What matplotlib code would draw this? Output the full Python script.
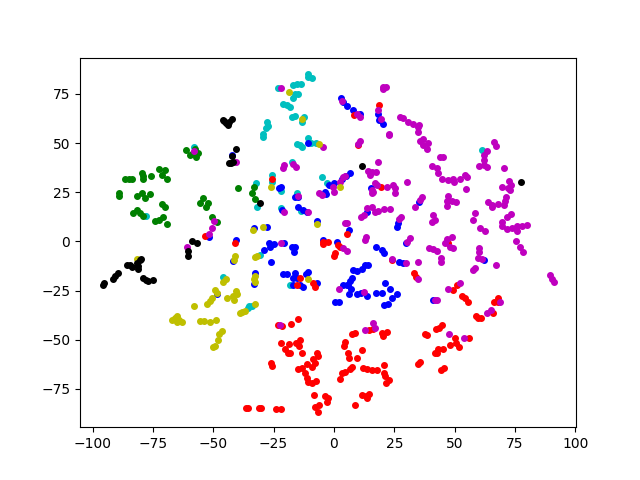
import matplotlib
matplotlib.use("Agg")
import matplotlib.pyplot as plt

cyan_pts = [(-10.8,85),(-10.8,83.7),(-9,83.2),(-17,79.6),(-15.3,80),(-13.7,80),(-23.2,78),(-16.1,75),(-14.9,75),(-17,73),
    (-21,70),(-19.5,69.4),(-18.2,68.4),(-17.4,63.3),(-16.1,63.8),(-12.4,63.3),(-13.3,60.7),(-27.7,60.7),(-27.3,58.7),(-28.2,57.7),
    (-29.4,54.6),(-29.4,53),(-10.8,52.6),(-15.3,49.5),(-13.3,48),(-14,49),(-7.5,50),(-9.5,50),(-17.4,40.3),(-25.7,33.7),(-25.7,30),
    (-22,25.5),(-32.3,29.6),(-5,32.7),(-2.9,29.6),(-15.3,24.5),(-31.9,17.3),(-13.7,15.3),(-22,17),(-30.6,-7.1),(-18.2,-22),
    (-35.2,-33),(-34,-32.7),(-35.6,-33.7),(-46,-17.9),(61.3,46.4),(-58,48),(-77.8,12.8)]
blue_pts = [(2.9,73),(3.7,70.9),(5.4,68.9),(7.9,66.8),(10.8,64.8),(18.2,64.8),(18.6,61.7),(20.3,59.7),(-10.8,50),(-22,27.6),(-22.8,27),
    (-2,28.6),(0,29.6),(3.3,32),(5,33.2),(6.6,34.7),(-3.7,25),(-3.3,24),(-16,22.4),(-15,22.4),(15.3,27),(-14.9,17.3),(-12.8,15.8),
    (-11.2,14.8),(-21.5,15.8),(-7,10.2),(-33.1,6.6),(-27.7,7.1),(-26.9,-1),(-26.5,-2.6),(-24.8,-1.5),(-29,-4.6),(-20.7,-1),
    (-17.4,-3),(-16.1,-3),(-16.6,-5.6),(-26,-10.7),(-32.7,-16),(-33.1,-21.5),(-21,-16.8),(-19.5,-16.8),(-16.1,-16.3),(-17,-18.4),
    (-15.3,-18.4),(-10.8,-15.8),(-11.6,-16.8),(-17,-22),(-14,-22.4),(-12.8,-23),(-7,-21.4),(-4.6,0.5),(1.2,-0.5),(6.2,6),(13.7,14.8),
    (26.5,9.2),(26,7.1),(17.4,-2.6),(19.9,-4.6),(20.7,-6),(26.9,-10.7),(28.6,-11.2),(7.9,-14.3),(9.5,-15.3),(7.5,-18.4),(6.6,-19.9),
    (5.8,-22.4),(3.7,-22.4),(5.4,-22.4),(7,-24),(6.2,-26.5),(12.8,-12.2),(11.6,-13.8),(14,-12.2),(9.5,-27),(11.2,-26),(13.7,-28),
    (17.4,-26),(19.9,-26),(21,-21.4),(23.2,-24),(26,-26.5),(24,-28.6),(22.4,-31.6),(20.7,-32.1),(0.4,-30.6),(2,-30.6),(35.2,19.9),
    (29.8,-1),(62.1,-9.2),(41,-29.6),(-51.8,2),(-40.6,0.5),(-42,-10),(-48.4,-27),(-42.4,44)]
green_pts = [(-61.3,46.4),(-59.6,43.9),(-58.4,44.9),(-56.3,44.9),(-57.1,42.9),(-57.5,47),(-86.5,32),(-85,31.8),(-83.6,31.6),(-79.5,34.7),(-79.3,33.3),(-79.1,32),
    (-75.8,33.2),(-72.5,36.7),(-70,36.2),(-71.2,33.7),(-69.2,32),(-89,23),(-89,24.5),(-81.6,23),(-79.5,24.5),(-78.3,22),(-76.2,24),
    (-71.2,19),(-70,17.3),(-83.2,14.3),(-81.6,15.8),(-79,12.8),(-80.3,14.3),(-74,10.2),(-72.5,11),(-70.8,12.2),(-69.2,8.7),(-54.2,22),(-55.5,19.4),
    (-52.2,19.4),(-53,17.3),(-50.5,12.2),(-48.4,9.7),(-33.1,27.6),(-34,24.5),(-32.7,21.4),(-39.8,27)]
red_pts = [(10,49),(8.3,64.3),(18.6,69.4),(-25.7,32),(19.5,27.6),(-53.4,2.6),(-41,-1),(-14,-18.4),(-15.3,-22.4),(-8.7,-21),(-7.9,-23),
    (-2.5,-0.5),(-4.6,-0.5),(-4.6,-1.5),(1.7,-2),(2.5,-3),(0.4,-6),(0,-7.6),(5.4,4),(24,-9.7),(47.2,-1),
    (33.1,-16.3),(34,-17.9),(50.9,-22),(49.3,-24.5),(53,-28),(54.2,-29),(55.5,-30.6),(67.9,-29),(66.3,-31),(67.9,-31),(65.8,-36.2),
    (58.8,-37.8),(59.6,-38.8),(60.9,-38.8),(44.7,-42.3),(43.5,-44),(42.2,-44.4),(37.7,-47),(38.5,-47.4),(55.9,-49),(50.1,-49),
    (50.5,-51.5),(51.8,-53.6),(48,-52.6),(45.1,-54.6),(43,-54.6),(42.7,-56.6),(41.8,-57),(35.6,-61.2),(34.8,-62.2),(45.5,-64.3),
    (44.3,-65.3),(16.1,-44.4),(14.5,-45),(19.9,-46.4),(20.3,-48),(21.9,-46),(12,-64.3),(13.7,-64.8),(15.7,-65.3),(17.8,-65.3),
    (20.7,-62.8),(20.7,-66.8),(21.1,-68.4),(22.8,-70.4),(21.5,-72),(11.6,-78),(13.2,-78.6),(14.5,-77.6),(13.7,-79.6),(11.6,-55),
    (-23.2,-42.3),(-21.5,-42.9),(-17.8,-41.8),(-14.9,-39.3),(-22,-51.5),(-18.6,-52),(-20.3,-54.6),(-19,-56.6),(-18.2,-57),
    (-15.7,-51.5),(-14,-50),(-14.5,-53),(-13.3,-56.6),(-7,-56.6),(-6.6,-58.2),(-26,-61.7),(-25.7,-63.3),(-14.9,-64.8),(-13.3,-64.3),
    (-12,-66.8),(-11.2,-69.4),(-10.8,-71.4),(-9,-71.9),(-7.5,-70.9),(-11.2,-62.2),(-8.7,-59.7),(-7.9,-61.7),(-9,-63.8),(-8.3,-78),
    (-3.7,-78.6),(-2.5,-79.6),(-2.9,-81.6),(-6.2,-83.2),(-7.9,-84.2),(-6.6,-86.7),(-35.6,-84.7),(-36.4,-84.7),(-30.2,-84.7),(-31,-84.7),
    (-24,-85.2),(-22,-85.2),(8.7,-46.4),(7.5,-47),(4.6,-51),(4.1,-53),(5.8,-56.6),(6.2,-59.2),(9.5,-59.2),(7.5,-63.8),(6.6,-64.8),
    (4.6,-66.3),(3.3,-66.8),(2.5,-70),(8.7,-83.2)]
magenta_pts = [(-22,78),(3.3,71.4),(9.5,64.8),(10.8,63.3),(20.3,77.6),(20.3,78.6),(21.5,78.6),(18.2,66.8),(19.5,62.2),(27.3,63.3),(28.6,62.8),
    (30.6,60.7),(32.7,59.7),(34.8,58.2),(35.2,59.2),(34.8,55.6),(22.8,54.6),(22.8,54),(10.8,51),(10,49.5),(-20.7,38.8),(-21,37.2),
    (-17,39.3),(-15.7,37.8),(2.5,30),(3.7,32.7),(4.6,33.2),(-0.4,27.6),(-6.2,24.5),(-5,23.5),(0,25),(-15,23),(18.2,40.3),(14,35.7),
    (15.7,35.2),(17.4,35.2),(15,34),(17,29.6),(17.8,28.6),(15.7,26),(16.1,25),(15.7,24.5),(21.9,27.6),(24.4,28.6),(25.3,27),(25.3,24.5),
    (30.2,30),(-4.6,48),(-10.8,14.8),(-20.7,14.8),(-22,-1),(-49.7,10.2),(-50.5,6.6),(-51.8,4),(-60.9,-3),(-58,46),(-40.6,40.3),
    (3.7,-3.6),(5.4,-5),(4.6,9.2),(5.4,9.2),(13.2,2),(12.8,0.5),(11.2,12.2),(12.4,13.3),(13.7,16.8),(15.7,17.3),(17,14.8),(18.2,15.3),
    (20.7,16.3),(23.2,16.3),(27.7,12.2),(26.9,11.2),(24,-8.7),(29.8,-11.2),(2,-24),(12.4,-25.5),(35.6,51),(36.9,52),(38.9,50),(36.9,49),
    (38.5,47),(43.9,42.9),(45.1,42.9),(40.6,38.3),(42.7,37.2),(43,34.7),(44.7,32),(47.2,31),(49.3,32),(49.7,30),(52.2,31.6),(54.2,33.7),
    (55,32.7),(54.7,26.5),(63.4,46),(62.1,43.9),(62.1,41.3),(60,38.3),(62.1,38.8),(63.4,37.8),(66.3,50.5),(67,48.5),(70.4,37.2),
    (72.5,30.6),(73.3,28.6),(69.6,27.6),(72,27),(72.9,26),(63.8,19.9),(65.4,18.4),(65.4,17.3),(67.9,18.9),(70.4,18.4),(71.2,22.4),
    (70.8,20.4),(47.2,23),(46.8,20.4),(48.9,20.4),(50.5,19.9),(46.8,17.9),(36.4,22.4),(35.6,20.9),(33.5,17.3),(41,13.3),(41.8,10.7),
    (40.6,9.7),(58.4,14.3),(57.6,10.7),(73.3,13.8),(71.6,12.2),(69.6,9.7),(69.6,7.7),(71.6,6.1),(73.7,6.6),(75.8,7.7),(75.8,5.1),
    (77.8,7.7),(79.9,8.2),(60.5,6.6),(62.5,5.1),(31.5,1.5),(30.2,-0.5),(48.9,2),(46.8,1),(46,-1),(48,-2.6),(49.3,-3.6),(39.3,-3.6),
    (41,-4),(42.7,-5),(44.3,-8.2),(44.3,-10.7),(75.4,0),(77,-3),(78.3,-5.6),(60,-3.6),(60,-5.6),(59.6,-8.2),(61.3,-8.7),(58.4,-13.3),
    (57.6,-14.3),(67,-12.2),(89.4,-17.3),(90.3,-18.9),(91.1,-20.4),(34.8,-10.7),(34.8,-19),(52.2,-21),(47.2,-24),(42.7,-29.6),(41.8,-30),
    (68.7,-30.6),(65,-34.7),(63.4,-36.2),(47.6,-47),(53.8,-49),(16.1,-41.3),(17,-43.9),(12.8,-45),(-22.4,-42.3)]
yellow_pts = [(-18.6,76),(-13.3,62.2),(-6.2,49.5),(-26,27.6),(2.5,27.6),(-7,8.7),(-33.5,5.6),(-29.4,7.1),(-32.7,-8),(-31.9,-7.6),
    (-32.7,-17.8),(-32.7,-20.4),(-33,-19),(-10.8,-18.9),(-32.7,-32),(-38,-35.7),(-81.6,-8.7),(-41,-7.6),(-41.4,-9.7),(-44.7,-19),(-46,-20.4),
    (-49.3,-24.5),(-48.4,-26),(-50.5,-29),(-51.5,-30.3),(-52.6,-31.6),(-44.3,-28.6),(-40.6,-25),(-40.2,-26.5),(-41.8,-28),(-41.4,-29.6),
    (-58,-32.7),(-36.9,-35.2),(-38.9,-36.2),(-65,-38),(-66,-39),(-64,-40),(-67,-40),(-63,-41),(-65,-41),(-55.5,-40.3),(-54,-40.3),
    (-51.3,-41),(-49,-40),(-46.4,-45.4),(-47.5,-47),(-48,-50),(-49.3,-53),(-50,-53.5)]
black_pts = [(-45.5,61.2),(-44.7,60.2),(-43.9,59.2),(-42.2,62.2),(-43.5,60.7),(-46,61.7),(-40.6,46.9),(-42.2,43.4),(-43.5,39.8),(-42.6,40),(-41.8,40.3),(11.6,38.3),
    (-30.6,19.4),(77.4,30),(-58.8,0),(-56.7,-1),(-60.5,-5),(-60.5,-7.6),(-95.6,-22.4),(-95.4,-21),(-91.5,-19),(-90.5,-17.5),(-89.4,-16.3),
    (-85.7,-12.2),(-84.6,-11.8),(-83.6,-12.8),(-81,-13.8),(-80.3,-9.7),(-81.6,-11.2),(-81,-12.5),(-80,-8.7),(-79,-18.4),(-78,-19.5),(-77,-20),(-75,-19.4)]

series = [(cyan_pts, "c"), (blue_pts, "b"), (green_pts, "g"), (red_pts, "r"),
          (magenta_pts, "m"), (yellow_pts, "y"), (black_pts, "k")]

fig, ax = plt.subplots(figsize=(6.4, 4.8), dpi=100)
for pts, col in series:
    ax.plot([p[0] for p in pts], [p[1] for p in pts], ".", color=col, markersize=8)
ax.set_xlim(-105.2, 100.3)
ax.set_ylim(-94.5, 93.5)
fig.savefig("out.png", dpi=100)
